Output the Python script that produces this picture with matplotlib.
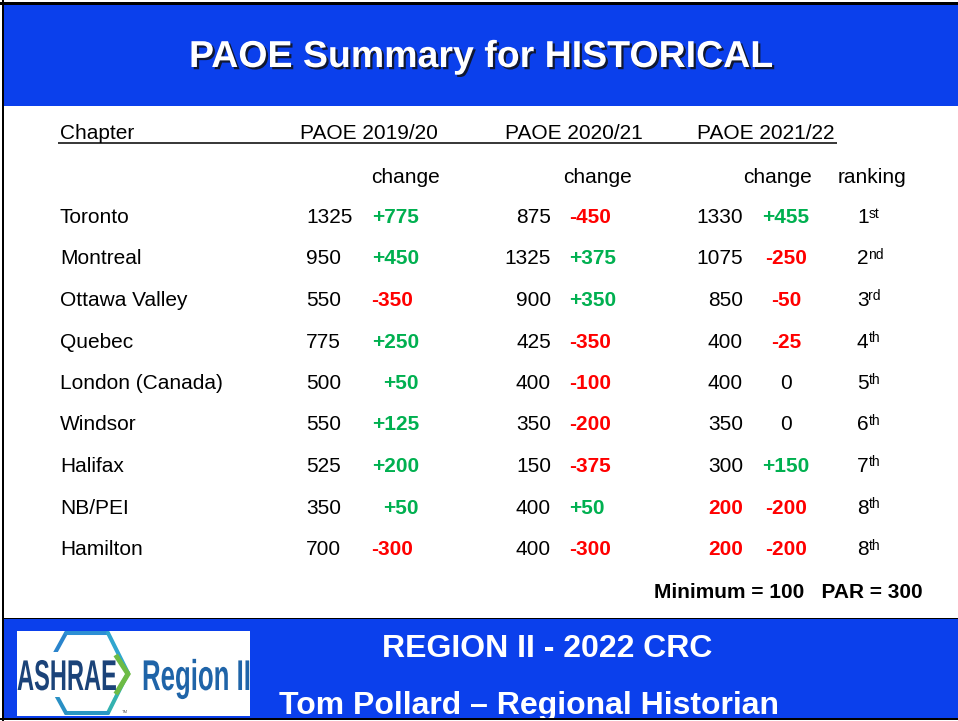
#!/usr/bin/env python3
"""PAOE summary slide redrawn with matplotlib"""

import matplotlib.pyplot as plt
import matplotlib.patheffects as pe
from matplotlib.patches import Rectangle, PathPatch
from matplotlib.textpath import TextPath
from matplotlib.font_manager import FontProperties
from matplotlib.transforms import Affine2D

plt.rcParams['font.family'] = 'Liberation Sans'

# data
chapters = ['Toronto', 'Montreal', 'Ottawa Valley', 'Quebec', 'London (Canada)',
            'Windsor', 'Halifax', 'NB/PEI', 'Hamilton']
paoe_1920 = [1325, 950, 550, 775, 500, 550, 525, 350, 700]
chg_1920 = [775, 450, -350, 250, 50, 125, 200, 50, -300]
paoe_2021 = [875, 1325, 900, 425, 400, 350, 150, 400, 400]
chg_2021 = [-450, 375, 350, -350, -100, -200, -375, 50, -300]
paoe_2122 = [1330, 1075, 850, 400, 400, 350, 300, 200, 200]
chg_2122 = [455, -250, -50, -25, 0, 0, 150, -200, -200]
ranking = ['1', '2', '3', '4', '5', '6', '7', '8', '8']
ranking_sfx = ['st', 'nd', 'rd', 'th', 'th', 'th', 'th', 'th', 'th']
minimum = 100
par = 300

BLUE = '#0b40ec'
GREEN = '#00b050'
RED = '#ff0000'
FS = 15


def fmt_change(v):
    " signed change text "
    return '0' if v == 0 else '%+d' % v


def change_style(v):
    " colour / weight for a change value "
    if v > 0:
        return GREEN, 'bold'
    if v < 0:
        return RED, 'bold'
    return 'black', 'normal'


def add_text_path(ax, s, x, y, size, xscale, color, clip=None):
    """ condensed bold text as a patch (pixel coords, y down) """
    tp = TextPath((0, 0), s, size=size,
                  prop=FontProperties(family='Liberation Sans', weight='bold'))
    tr = Affine2D().scale(xscale, -1).translate(x, y)
    patch = PathPatch(tr.transform_path(tp), fc=color, ec='none', zorder=5)
    ax.add_patch(patch)
    if clip is not None:
        patch.set_clip_path(clip)


fig = plt.figure(figsize=(9.58, 7.21), dpi=100, facecolor='white')
ax = fig.add_axes([0, 0, 1, 1])
ax.set_xlim(0, 958)
ax.set_ylim(721, 0)
ax.axis('off')

# slide background
ax.add_patch(Rectangle((4, 5), 954, 100.5, fc=BLUE, ec='none', zorder=1))
ax.add_patch(Rectangle((4, 619), 954, 99, fc=BLUE, ec='none', zorder=1))
ax.add_patch(Rectangle((4, 617.5), 954, 1.6, fc='black', ec='none', zorder=1))
ax.add_patch(Rectangle((0, 1.7), 958, 3.3, fc='black', ec='none', zorder=10))
ax.add_patch(Rectangle((1.7, 0), 2.3, 721, fc='black', ec='none', zorder=10))
ax.add_patch(Rectangle((0, 718), 958, 2.2, fc='black', ec='none', zorder=10))

# title
ax.text(481, 67, 'PAOE Summary for HISTORICAL', color='white', fontsize=27,
        fontweight='bold', ha='center', va='baseline', zorder=3,
        path_effects=[pe.withSimplePatchShadow(offset=(1.6, -1.6),
                                               shadow_rgbFace='#111111',
                                               alpha=0.85)])

# header
ax.text(60, 139, 'Chapter', fontsize=FS, va='baseline')
for x, s in [(300, 'PAOE 2019/20'), (505, 'PAOE 2020/21'), (697, 'PAOE 2021/22')]:
    ax.text(x, 139, s, fontsize=FS, va='baseline')
ax.plot([58, 837], [142.5, 142.5], color='black', lw=1.1, solid_capstyle='butt')
for x, s in [(406, 'change'), (598, 'change'), (778, 'change'), (872, 'ranking')]:
    ax.text(x, 183, s, fontsize=FS, ha='center', va='baseline')

# rows
for i, name in enumerate(chapters):
    y = 223 + 41.5 * i
    ax.text(60, y, name, fontsize=FS, va='baseline')

    ax.text(306, y, str(paoe_1920[i]), fontsize=FS, va='baseline')
    c, w = change_style(chg_1920[i])
    if chg_1920[i] < 0:
        ax.text(371, y, fmt_change(chg_1920[i]), fontsize=FS, color=c,
                fontweight=w, va='baseline')
    else:
        ax.text(419, y, fmt_change(chg_1920[i]), fontsize=FS, color=c,
                fontweight=w, ha='right', va='baseline')

    ax.text(551, y, str(paoe_2021[i]), fontsize=FS, ha='right', va='baseline')
    c, w = change_style(chg_2021[i])
    ax.text(569, y, fmt_change(chg_2021[i]), fontsize=FS, color=c,
            fontweight=w, va='baseline')

    low = paoe_2122[i] < par
    ax.text(743, y, str(paoe_2122[i]), fontsize=FS, ha='right', va='baseline',
            color=RED if low else 'black',
            fontweight='bold' if low else 'normal')
    c, w = change_style(chg_2122[i])
    ax.text(786, y, fmt_change(chg_2122[i]), fontsize=FS, color=c,
            fontweight=w, ha='center', va='baseline')

    ax.text(857, y, ranking[i], fontsize=FS, va='baseline')
    ax.text(868.5, y - 5.5, ranking_sfx[i], fontsize=10, va='baseline')

ax.text(923, 598, 'Minimum = %d   PAR = %d' % (minimum, par), fontsize=FS,
        fontweight='bold', ha='right', va='baseline')

# footer text
ax.text(547, 657, 'REGION II - 2022 CRC', color='white', fontsize=23,
        fontweight='bold', ha='center', va='baseline', zorder=3)
ax.text(529, 714, 'Tom Pollard \u2013 Regional Historian', color='white',
        fontsize=23, fontweight='bold', ha='center', va='baseline', zorder=3)

# logo
logo = Rectangle((17, 631), 233, 84.5, fc='white', ec='none', zorder=2)
ax.add_patch(logo)
hex_pts = [(44, 673), (66, 633), (108, 633), (128, 673), (108, 713),
           (66, 713), (44, 673)]
hex_cols = ['#2a84cc', '#2d8fd4', '#30a6cf', '#34b2b0', '#2a98c4', '#2a90c4']
for k in range(6):
    seg = ax.plot([hex_pts[k][0], hex_pts[k + 1][0]],
                  [hex_pts[k][1], hex_pts[k + 1][1]],
                  color=hex_cols[k], lw=2.9, solid_capstyle='round', zorder=3)[0]
    seg.set_clip_path(logo)
ax.add_patch(Rectangle((17, 652), 97, 45, fc='white', ec='none', zorder=4))
ax.plot([117, 128, 117], [657, 674, 692], color='#6dbb45', lw=3.6,
        solid_joinstyle='miter', zorder=4)
add_text_path(ax, 'ASHRAE', 17, 690, 43, 0.55, '#1b4379')
add_text_path(ax, 'Region II', 142, 690, 43, 0.6, '#1f64a8', clip=logo)
ax.text(122, 713, 'TM', fontsize=3, color='#555555', zorder=5)

fig.savefig('out.png', dpi=100, facecolor='white')
